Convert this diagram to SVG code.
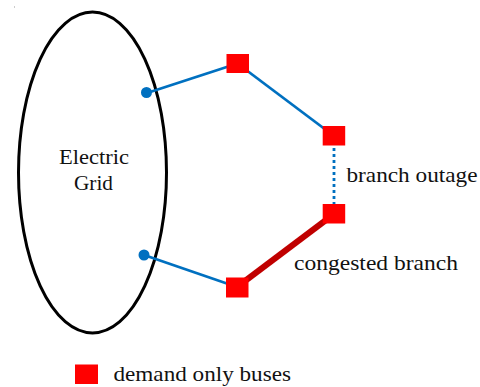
<svg xmlns="http://www.w3.org/2000/svg" width="480" height="387" viewBox="0 0 480 387">
<style>
.bus{fill:#FF0000}
.line{stroke:#0070C0;stroke-width:2.8;fill:none}
.lbl{font-family:'Liberation Serif','DejaVu Serif',serif;font-size:22px;fill:#111}
</style>
<rect width="480" height="387" fill="#fff"/>
<rect x="14" y="6.5" width="1" height="1" fill="#999"/>
<g id="grid">
<ellipse cx="92.5" cy="172.5" rx="74" ry="160.5" fill="none" stroke="#000" stroke-width="3"/>
<text class="lbl" x="94" y="164" text-anchor="middle" textLength="70" lengthAdjust="spacingAndGlyphs">Electric</text>
<text class="lbl" x="93.5" y="190" text-anchor="middle" textLength="39" lengthAdjust="spacingAndGlyphs">Grid</text>
</g>
<g id="connectors">
<line class="line" x1="147" y1="93" x2="237.5" y2="63.5"/>
<line class="line" x1="237.5" y1="63.5" x2="334" y2="136"/>
<line class="line" x1="334" y1="136" x2="334" y2="214" stroke-dasharray="3,3"/>
<line x1="334" y1="214" x2="237" y2="287" stroke="#C00000" stroke-width="6"/>
<line class="line" x1="144" y1="255" x2="237" y2="287"/>
</g>
<g id="dot1"><circle cx="146.5" cy="92.5" r="5.5" fill="#0070C0"/></g>
<g id="dot2"><circle cx="144" cy="255" r="5.5" fill="#0070C0"/></g>
<g id="bus1"><rect class="bus" x="226.5" y="54" width="22.5" height="19"/></g>
<g id="bus2"><rect class="bus" x="322.7" y="126" width="22.5" height="19.5"/></g>
<g id="bus3"><rect class="bus" x="322.7" y="204" width="22.5" height="19.5"/></g>
<g id="bus4"><rect class="bus" x="226" y="277.5" width="22.5" height="20"/></g>
<g id="label-outage"><text class="lbl" x="346.5" y="181.5" textLength="131" lengthAdjust="spacingAndGlyphs">branch outage</text></g>
<g id="label-congested"><text class="lbl" x="294" y="269.5" textLength="164" lengthAdjust="spacingAndGlyphs">congested branch</text></g>
<g id="legend">
<rect class="bus" x="75" y="364.5" width="23" height="19.5"/>
<text class="lbl" x="113.5" y="380.5" textLength="177.5" lengthAdjust="spacingAndGlyphs">demand only buses</text>
</g>
</svg>
